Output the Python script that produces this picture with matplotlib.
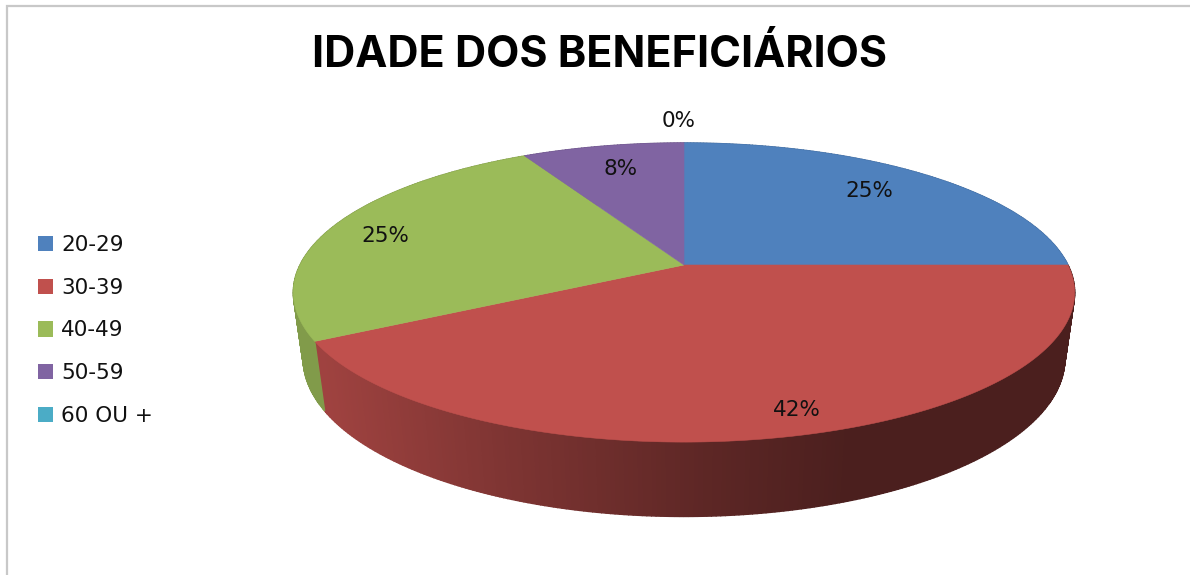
import numpy as np
import matplotlib
matplotlib.use("Agg")
import matplotlib.pyplot as plt
from matplotlib.patches import Patch

title = "IDADE DOS BENEFICIÁRIOS"
categories = ["20-29", "30-39", "40-49", "50-59", "60 OU +"]
percent = [25, 42, 25, 8, 0]
colors = ["#4F81BD", "#C0504D", "#9BBB59", "#8064A2", "#4BACC6"]

CX, CY = 684, 265
RX, RY, K, M, D = 384, 144.5, 0.184, 0.025, 67
label_xy = [(869, 191), (797, 410), (385, 236), (621, 169), (679, 121)]


def project(theta, h=0.0):
    """Perspective view of a pie disc; theta clockwise from the top, h = 0 top, 1 bottom."""
    u, v = np.sin(theta), -np.cos(theta)
    w = 1 - K * v + M * h
    return CX + RX * u / w, CY + (RY * v + D * h) / w


def side_factor(x):
    return np.interp(x, [320, 500, 700, 850, 1075], [0.83, 0.66, 0.49, 0.39, 0.39])


fig = plt.figure(figsize=(11.9, 5.75), dpi=100)
ax = fig.add_axes([0, 0, 1, 1])
ax.set_xlim(0, 1190)
ax.set_ylim(575, 0)
ax.axis("off")

ax.plot([7, 7, 1190], [575, 6, 6], color="#C8C8C8", lw=1.6, solid_joinstyle="miter")

edges = np.cumsum([0] + percent) / 100 * 2 * np.pi

# sides
for i, col in enumerate(colors):
    a0, a1 = edges[i], edges[i + 1]
    if a1 <= a0:
        continue
    rgb = np.array(matplotlib.colors.to_rgb(col))
    n = max(2, int((a1 - a0) / 0.01))
    t = np.linspace(a0, a1, n)
    for t0, t1 in zip(t[:-1], t[1:]):
        x0, y0 = project(t0)
        x1, y1 = project(t1)
        x2, y2 = project(t1, 1)
        x3, y3 = project(t0, 1)
        if i == 1:
            shade = rgb * side_factor((x0 + x1) / 2)
        else:
            shade = rgb * 0.83
        ax.fill([x0, x1, x2, x3], [y0, y1, y2, y3], color=shade, lw=1.0, zorder=2)

# top face
for i, col in enumerate(colors):
    a0, a1 = edges[i], edges[i + 1]
    if a1 <= a0:
        continue
    t = np.linspace(a0, a1, 300)
    x, y = project(t)
    ax.fill(np.r_[CX, x], np.r_[CY, y], color=col, lw=0.4, zorder=3)

# data labels
for v, (lx, ly) in zip(percent, label_xy):
    ax.text(lx, ly, f"{v}%", ha="center", va="center", fontsize=15.5,
            color="#111111", family="DejaVu Sans", zorder=4)

ax.text(600, 67, title, ha="center", va="baseline", fontsize=31, fontweight="bold",
        family="Inter", color="black")

handles = [Patch(facecolor=c, edgecolor="none", label=l) for c, l in zip(colors, categories)]
ax.legend(handles=handles, loc="center left", bbox_to_anchor=(38, 330.5), bbox_transform=ax.transData,
          frameon=False, prop={"family": "DejaVu Sans", "size": 15.5}, borderpad=0, borderaxespad=0,
          handlelength=0.7, handleheight=0.7, handletextpad=0.37, labelspacing=1.06, labelcolor="#111111")

fig.savefig("out.png", dpi=100, facecolor="white")
